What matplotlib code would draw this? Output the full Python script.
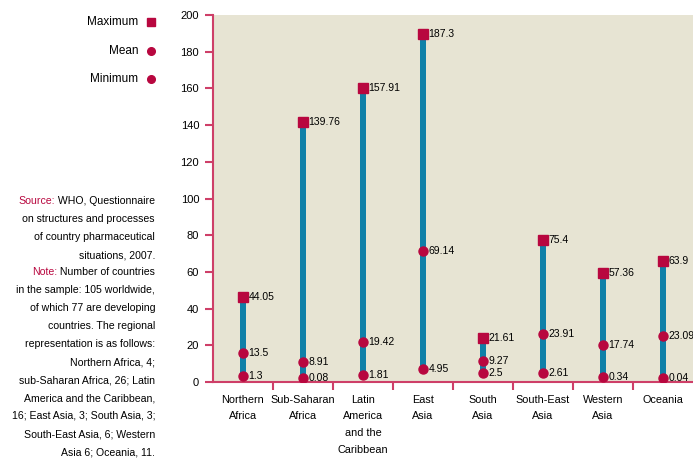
import matplotlib
matplotlib.use("Agg")
import matplotlib.pyplot as plt
from matplotlib import font_manager, transforms

# ---- data ----
categories = ["Northern\nAfrica", "Sub-Saharan\nAfrica", "Latin\nAmerica\nand the\nCaribbean",
              "East\nAsia", "South\nAsia", "South-East\nAsia", "Western\nAsia", "Oceania"]
maximum = [44.05, 139.76, 157.91, 187.3, 21.61, 75.4, 57.36, 63.9]
mean = [13.5, 8.91, 19.42, 69.14, 9.27, 23.91, 17.74, 23.09]
minimum = [1.3, 0.08, 1.81, 4.95, 2.5, 2.61, 0.34, 0.04]
max_labels = ["44.05", "139.76", "157.91", "187.3", "21.61", "75.4", "57.36", "63.9"]
mean_labels = ["13.5", "8.91", "19.42", "69.14", "9.27", "23.91", "17.74", "23.09"]
min_labels = ["1.3", "0.08", "1.81", "4.95", "2.5", "2.61", "0.34", "0.04"]
yticks = [0, 20, 40, 60, 80, 100, 120, 140, 160, 180, 200]

# ---- fonts ----
avail = {f.name for f in font_manager.fontManager.ttflist}
fam = [f for f in ["Liberation Sans Narrow", "Liberation Sans", "DejaVu Sans"] if f in avail]
plt.rcParams["font.family"] = fam

BG = "#E7E4D3"
BLUE = "#0F80A8"
RED = "#B8073F"
SPINE = "#CE3F68"

fig = plt.figure(figsize=(6.93, 4.61), dpi=100)
ax = fig.add_axes([213/693, 1 - 382/461, 1 - 213/693, (382 - 15)/461])
ax.set_facecolor(BG)

# markers sit slightly above their value in the reference
up = transforms.offset_copy(ax.transData, fig=fig, x=0, y=4, units="dots")

x = list(range(len(categories)))
ax.bar(x, [mx - mn for mx, mn in zip(maximum, minimum)], bottom=minimum,
       width=0.1, color=BLUE, zorder=2, transform=up)
ax.plot(x, maximum, linestyle="none", marker="s", markersize=7, color=RED, zorder=3, transform=up)
ax.plot(x, mean, linestyle="none", marker="o", markersize=6.5, color=RED, zorder=3, transform=up)
ax.plot(x, minimum, linestyle="none", marker="o", markersize=6.5, color=RED, zorder=3, transform=up)

for i in x:
    for vals, labs in ((maximum, max_labels), (mean, mean_labels), (minimum, min_labels)):
        ax.text(i + 0.09, vals[i], labs[i], va="center", ha="left", fontsize=7.5,
                zorder=4, transform=up)

ax.set_xlim(-0.5, len(categories) - 0.5)
ax.set_ylim(0, 200)
ax.set_yticks(yticks)
ax.set_yticklabels([str(v) for v in yticks], fontsize=8)

# category ticks at boundaries, labels centered
ax.set_xticks([i + 0.5 for i in x[:-1]])
ax.set_xticklabels([])
ax.tick_params(axis="x", which="major", length=6, width=1.5, color=SPINE, direction="out")
ax.set_xticks(x, minor=True)
ax.set_xticklabels(categories, minor=True, fontsize=7.8, linespacing=1.85, va="top")
ax.tick_params(axis="x", which="minor", length=0, pad=9)
ax.tick_params(axis="y", length=6, width=1.5, color=SPINE, direction="out", pad=4)

for s in ["top", "right"]:
    ax.spines[s].set_visible(False)
for s in ["left", "bottom"]:
    ax.spines[s].set_color(SPINE)
    ax.spines[s].set_linewidth(1.5)

# ---- legend ----
leg_items = [("Maximum", "s", 22), ("Mean", "o", 51), ("Minimum", "o", 79)]
for label, mk, ypx in leg_items:
    fig.text(138/693, 1 - ypx/461, label, ha="right", va="center", fontsize=8.5)
    fig.lines.append(plt.Line2D([151/693], [1 - ypx/461], transform=fig.transFigure,
                                marker=mk, markersize=6 if mk == "s" else 5.5,
                                color=RED, linestyle="none"))

# ---- source / note ----
lines = [
    ("Source:", " WHO, Questionnaire"),
    ("", "on structures and processes"),
    ("", "of country pharmaceutical"),
    ("", "situations, 2007."),
    ("Note:", " Number of countries"),
    ("", "in the sample: 105 worldwide,"),
    ("", "of which 77 are developing"),
    ("", "countries. The regional"),
    ("", "representation is as follows:"),
    ("", "Northern Africa, 4;"),
    ("", "sub-Saharan Africa, 26; Latin"),
    ("", "America and the Caribbean,"),
    ("", "16; East Asia, 3; South Asia, 3;"),
    ("", "South-East Asia, 6; Western"),
    ("", "Asia 6; Oceania, 11."),
]
ys = [201, 219, 237, 256] + [272 + 18 * k for k in range(11)]
xr = 155 / 693
r = fig.canvas.get_renderer()
for (red, rest), ypx in zip(lines, ys):
    t = fig.text(xr, 1 - ypx/461, rest, ha="right", va="center", fontsize=7.6)
    if red:
        bb = t.get_window_extent(renderer=r)
        fig.text(bb.x0 / fig.bbox.width, 1 - ypx/461, red, ha="right", va="center",
                 fontsize=7.6, color=RED)

fig.savefig("out.png", dpi=100)
